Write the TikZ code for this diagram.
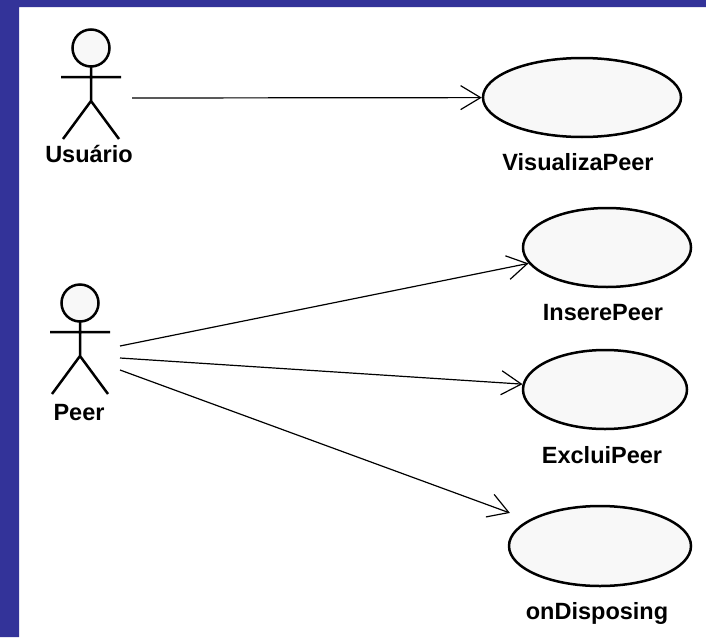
\documentclass[tikz,border=0pt]{standalone}
\usepackage{fontspec}
\setmainfont{Liberation Sans}
\usetikzlibrary{shapes.geometric,arrows.meta}
\definecolor{slideblue}{RGB}{51,51,153}
\definecolor{ucfill}{RGB}{248,248,248}
\tikzset{
  usecase/.style={ellipse,draw,line width=2.5pt,fill=ucfill,inner sep=0pt},
  uclabel/.style={anchor=base,inner sep=0pt,font=\fontsize{23.5}{27}\selectfont\bfseries},
  assoc/.style={-{Straight Barb[length=20pt,width=24pt,line width=1.2pt]},line width=1.2pt},
  stick/.style={line width=2.5pt}
}
\newcommand{\stickman}[2]{%
  \begin{scope}[shift={#2}]
    \coordinate (#1) at (0,0);
    \draw[stick,fill=ucfill] (0,0) circle (18.5pt);
    \draw[stick] (0,18.5) -- (0,53) (-30,29) -- (30,29)
                 (-28,91) -- (0,53) -- (28,91);
  \end{scope}}

\begin{document}
\begin{tikzpicture}[x=1pt,y=-1pt]
  \useasboundingbox (0,0) rectangle (706,637);
  \fill[slideblue] (0,0) rectangle (19,637) (0,0) rectangle (706,7);

  \stickman{usuario}{(91,48)}
  \stickman{peer}{(80,303)}
  \node[uclabel] (usuariolbl) at (89,162) {Usuário};
  \node[uclabel] (peerlbl) at (79,420) {Peer};

  \node[usecase,minimum width=198pt,minimum height=79pt] (visualiza) at (582,97.5) {};
  \node[usecase,minimum width=168pt,minimum height=79pt] (insere) at (607,247.5) {};
  \node[usecase,minimum width=164pt,minimum height=79pt] (exclui) at (605,389.5) {};
  \node[usecase,minimum width=182pt,minimum height=80pt] (disposing) at (600,546) {};

  \node[uclabel] (visualizalbl) at (578,170) {VisualizaPeer};
  \node[uclabel] (inserelbl) at (603,320) {InserePeer};
  \node[uclabel] (excluilbl) at (602,463) {ExcluiPeer};
  \node[uclabel] (disposinglbl) at (597,619) {onDisposing};

  \coordinate (usuarioport) at (132,98);
  \coordinate (peerport-1) at (120,346);
  \coordinate (peerport-2) at (120,358);
  \coordinate (peerport-3) at (120,370);

  \path[assoc]
    (usuarioport) edge (visualiza)
    (peerport-1) edge (insere)
    (peerport-2) edge (exclui)
    (peerport-3) edge[shorten >=20pt] (disposing);
\end{tikzpicture}
\end{document}
